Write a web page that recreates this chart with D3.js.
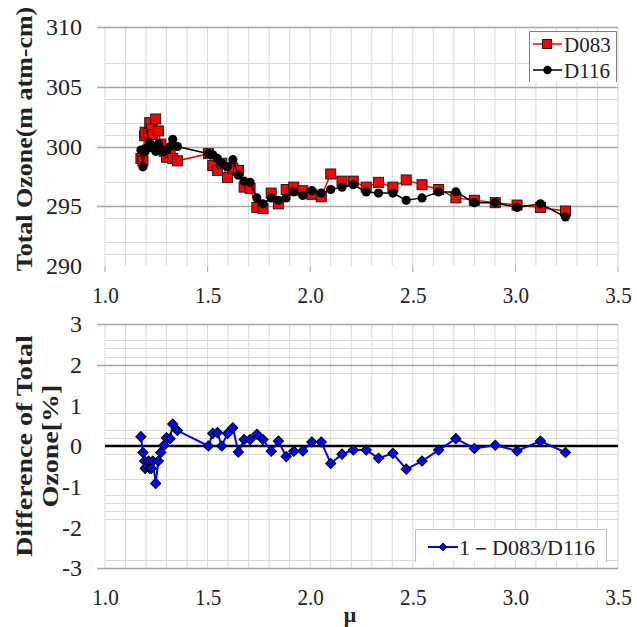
<!DOCTYPE html>
<html>
<head>
<meta charset="utf-8">
<script src="https://cdn.jsdelivr.net/npm/d3@7"></script>
<style>
  body { margin: 0; background: #fff; }
  svg { display: block; font-family: "Liberation Serif", "Times New Roman", serif; }
</style>
</head>
<body>
<div id="chart"></div>
<script>
// air mass (mu) shared by all three series
const mu = [1.175, 1.185, 1.193, 1.196, 1.213, 1.218, 1.226, 1.233, 1.247, 1.26, 1.272, 1.288, 1.30, 1.317, 1.33, 1.353,
  1.504, 1.525, 1.548, 1.569, 1.597, 1.623, 1.65, 1.678, 1.707, 1.74, 1.77, 1.81, 1.845, 1.883, 1.92,
  1.964, 2.008, 2.054, 2.10, 2.155, 2.21, 2.273, 2.333, 2.403, 2.468, 2.545, 2.626, 2.71, 2.80, 2.902, 3.008, 3.122, 3.244];
const d083 = [299.0, 298.8, 300.9, 301.2, 301.1, 302.0, 301.5, 301.0, 302.3, 301.3, 300.2, 299.6, 299.1, 299.5, 299.0, 298.8,
  299.4, 298.4, 298.0, 298.6, 297.4, 298.2, 298.0, 296.6, 296.5, 294.9, 294.8, 296.1, 295.2, 296.4, 296.6,
  296.3, 296.0, 295.8, 297.7, 297.1, 297.1, 296.6, 297.0, 296.6, 297.2, 296.8, 296.4, 295.7, 295.5, 295.3, 295.1, 294.9, 294.6];
const d116 = [299.7, 298.3, 299.8, 299.6, 300.0, 300.3, 299.9, 299.9, 299.6, 300.2, 299.7, 299.6, 299.7, 300.0, 300.6, 300.0,
  299.4, 299.3, 299.0, 298.6, 298.3, 298.9, 297.6, 297.1, 297.0, 295.7, 295.2, 295.7, 295.5, 295.7, 296.2,
  295.9, 296.3, 296.1, 296.4, 296.6, 296.8, 296.2, 296.1, 296.1, 295.5, 295.7, 296.2, 296.2, 295.3, 295.3, 294.9, 295.2, 294.1];
const diff = [0.23, -0.16, -0.37, -0.55, -0.37, -0.55, -0.55, -0.37, -0.92, -0.37, -0.16, 0.02, 0.20, 0.18, 0.54, 0.38,
  0.00, 0.31, 0.33, 0.00, 0.31, 0.45, -0.15, 0.16, 0.16, 0.29, 0.16, -0.13, 0.12, -0.26, -0.13,
  -0.12, 0.10, 0.10, -0.43, -0.20, -0.10, -0.10, -0.30, -0.18, -0.57, -0.37, -0.10, 0.18, -0.06, 0.02, -0.12, 0.12, -0.16];

// tick labels and grid positions
const xTicks = [1.0, 1.5, 2.0, 2.5, 3.0, 3.5];
const xMinor = [1.0, 1.1, 1.2, 1.3, 1.4, 1.5, 1.6, 1.7, 1.8, 1.9, 2.0, 2.1, 2.2, 2.3, 2.4, 2.5, 2.6, 2.7, 2.8, 2.9, 3.0, 3.1, 3.2, 3.3, 3.4, 3.5];
const topTicks = [290, 295, 300, 305, 310];
const topMajor = [295, 300, 305, 310];
const topMinor = [291, 292, 294, 297, 301, 302, 304, 307];
const botTicks = [-3, -2, -1, 0, 1, 2, 3];
const botMajor = [-3, 2, 3];
const botMinor = [-2.8, -1.8, -1.6, -1.4, -1.2, -0.8, -0.2, 0.2, 0.4, 0.8, 1.8, 2.2, 2.4, 2.6];

const W = 637, H = 627;
const minorCol = '#d9d9d9', majorCol = '#a6a6a6';

const svg = d3.select('#chart').append('svg')
  .attr('width', W)
  .attr('height', H);

const x = d3.scaleLinear().domain([1, 3.5]).range([105, 618]);
const yT = d3.scaleLinear().domain([290, 310]).range([266, 27]);
const yB = d3.scaleLinear().domain([-3, 3]).range([568, 324]);

function grid(y, y0, y1, minor, major) {
  const g = svg.append('g');
  g.selectAll('line.vx').data(xMinor).enter().append('line')
    .attr('x1', d => x(d)).attr('x2', d => x(d))
    .attr('y1', y(y1)).attr('y2', y(y0))
    .attr('stroke', minorCol).attr('stroke-width', 1);
  g.selectAll('line.hm').data(minor).enter().append('line')
    .attr('x1', x(1)).attr('x2', x(3.5))
    .attr('y1', d => Math.round(y(d)) + 0.5).attr('y2', d => Math.round(y(d)) + 0.5)
    .attr('stroke', minorCol).attr('stroke-width', 1);
  g.selectAll('line.hM').data(major).enter().append('line')
    .attr('x1', x(1) - 8).attr('x2', x(3.5))
    .attr('y1', d => Math.round(y(d)) + 0.5).attr('y2', d => Math.round(y(d)) + 0.5)
    .attr('stroke', majorCol).attr('stroke-width', 1.3);
  return g;
}

function yAxis(y, ticks) {
  svg.append('g')
    .attr('transform', `translate(${x(1)},0)`)
    .call(d3.axisLeft(y).tickValues(ticks).tickFormat(d => String(d)).tickSize(0).tickPadding(23))
    .call(g => g.select('.domain').remove())
    .selectAll('text')
    .style('font-size', '24px')
    .style('font-family', '"Liberation Serif", serif')
    .attr('fill', '#222');
}

function xAxis(yPos) {
  svg.append('g')
    .attr('transform', `translate(0,${yPos})`)
    .call(d3.axisBottom(x).tickValues(xTicks).tickFormat(d3.format('.1f')).tickSize(0).tickPadding(20))
    .call(g => g.select('.domain').remove())
    .selectAll('text')
    .attr('transform', 'scale(0.88,1)')
    .style('font-size', '24px')
    .style('font-family', '"Liberation Serif", serif')
    .attr('fill', '#222');
}

// ---------- top panel ----------
grid(yT, 290, 310, topMinor, topMajor);
svg.append('g').selectAll('line').data(xTicks).enter().append('line')
  .attr('x1', d => x(d)).attr('x2', d => x(d))
  .attr('y1', yT(290)).attr('y2', yT(290) + 6)
  .attr('stroke', majorCol);
yAxis(yT, topTicks);
xAxis(yT(290));

const lineT = d3.line().x((d, i) => x(mu[i])).y(d => yT(d));
svg.append('path').datum(d083)
  .attr('d', lineT).attr('fill', 'none')
  .attr('stroke', '#ff0000').attr('stroke-width', 1.5);
svg.append('g').selectAll('rect').data(d083).enter().append('rect')
  .attr('x', (d, i) => x(mu[i]) - 5).attr('y', d => yT(d) - 5)
  .attr('width', 10).attr('height', 10)
  .attr('fill', '#ff0000').attr('stroke', '#1a1a1a').attr('stroke-width', 1);

svg.append('path').datum(d116)
  .attr('d', lineT).attr('fill', 'none')
  .attr('stroke', '#000').attr('stroke-width', 1.5);
svg.append('g').selectAll('circle').data(d116).enter().append('circle')
  .attr('cx', (d, i) => x(mu[i])).attr('cy', d => yT(d))
  .attr('r', 4.6).attr('fill', '#000');

// top legend
const lg1 = svg.append('g');
lg1.append('rect').attr('x', 529).attr('y', 31).attr('width', 88).attr('height', 51).attr('fill', '#fff');
lg1.append('path').attr('d', 'M529.5,82 V31.5 H616.5 V82').attr('fill', 'none').attr('stroke', '#7f7f7f');
lg1.append('line').attr('x1', 533).attr('x2', 562).attr('y1', 44).attr('y2', 44).attr('stroke', '#ff0000').attr('stroke-width', 1.5);
lg1.append('rect').attr('x', 542.5).attr('y', 39.5).attr('width', 9).attr('height', 9).attr('fill', '#ff0000').attr('stroke', '#1a1a1a');
lg1.append('text').attr('x', 564).attr('y', 52).text('D083').style('font-size', '21px').attr('fill', '#222');
lg1.append('line').attr('x1', 533).attr('x2', 562).attr('y1', 70).attr('y2', 70).attr('stroke', '#000').attr('stroke-width', 1.5);
lg1.append('circle').attr('cx', 547.5).attr('cy', 70).attr('r', 4.2).attr('fill', '#000');
lg1.append('text').attr('x', 564).attr('y', 78).text('D116').style('font-size', '21px').attr('fill', '#222');

svg.append('text')
  .attr('transform', 'translate(32,139) scale(0.85,1) rotate(-90)')
  .attr('text-anchor', 'middle')
  .style('font-size', '26px').style('font-weight', 'bold')
  .attr('fill', '#222')
  .text('Total Ozone(m atm-cm)');

// ---------- bottom panel ----------
grid(yB, -3, 3, botMinor, botMajor);
svg.append('line')
  .attr('x1', x(1)).attr('x2', x(3.5))
  .attr('y1', yB(0)).attr('y2', yB(0))
  .attr('stroke', '#000').attr('stroke-width', 2.5);
yAxis(yB, botTicks);
xAxis(yB(-3));

// bottom legend
const lg2 = svg.append('g');
lg2.append('rect').attr('x', 415).attr('y', 529).attr('width', 192).attr('height', 32).attr('fill', '#fff');
lg2.append('path').attr('d', 'M415.5,562 V529.5 H606.5 V562').attr('fill', 'none').attr('stroke', '#bfbfbf');
lg2.append('line').attr('x1', 428).attr('x2', 458).attr('y1', 547).attr('y2', 547).attr('stroke', '#0000ff').attr('stroke-width', 2);
lg2.append('path').attr('d', d3.symbol(d3.symbolSquare, 32)()).attr('transform', 'translate(443,547) rotate(45)')
  .attr('fill', '#0000ff').attr('stroke', '#000').attr('stroke-width', 0.8);
lg2.append('text').attr('x', 459).attr('y', 555).text('1－D083/D116').style('font-size', '22px').attr('fill', '#222');

const lineB = d3.line().x((d, i) => x(mu[i])).y(d => yB(d));
svg.append('path').datum(diff)
  .attr('d', lineB).attr('fill', 'none')
  .attr('stroke', '#0000ff').attr('stroke-width', 2);
const diamond = d3.symbol(d3.symbolSquare, 52)();
svg.append('g').selectAll('path').data(diff).enter().append('path')
  .attr('d', diamond)
  .attr('transform', (d, i) => `translate(${x(mu[i])},${yB(d)}) rotate(45)`)
  .attr('fill', '#0000ff').attr('stroke', '#000').attr('stroke-width', 1);

const ttl = svg.append('text')
  .attr('transform', `translate(32,${(yB(-3) + yB(3)) / 2}) scale(0.85,1) rotate(-90)`)
  .attr('text-anchor', 'middle')
  .style('font-size', '28px').style('font-weight', 'bold')
  .attr('fill', '#222');
ttl.append('tspan').attr('x', 0).attr('dy', 0).text('Difference of Total');
ttl.append('tspan').attr('x', 0).attr('dy', 31).text('Ozone[%]');

svg.append('text')
  .attr('x', 350).attr('y', 622)
  .attr('text-anchor', 'middle')
  .style('font-size', '22px').style('font-weight', 'bold')
  .attr('fill', '#222')
  .text('μ');
</script>
</body>
</html>
